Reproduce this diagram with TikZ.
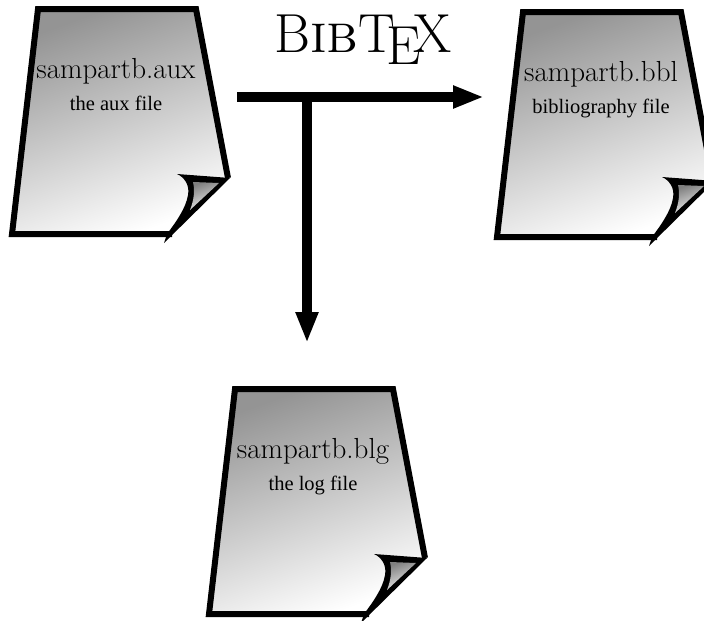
\documentclass[tikz,border=0pt]{standalone}
\usepackage{fontspec}
\newfontfamily\descfont{Liberation Serif}
\usetikzlibrary{arrows.meta}
\usetikzlibrary{positioning}

\begin{document}
\begin{tikzpicture}[x=1pt, y=-1pt,
			sheetStyle/.style={draw=none, top color=black!42, bottom color=white, shading angle=20},
			edgeStyle/.style={draw=black, line width=6pt, line join=miter},
			flapStyle/.style={fill=black, draw=none},
			foldStyle/.style={draw=none, left color=black!50, right color=black!5, shading angle=20},
			fileName/.style={font=\fontsize{29}{33}\selectfont, inner sep=0pt},
			fileDesc/.style={font=\descfont\fontsize{20.5}{24}\selectfont, inner sep=0pt},
			toolName/.style={font=\fontsize{55}{60}\selectfont, inner sep=0pt},
			flowArrow/.style={line width=10pt, -{Triangle[length=31pt, width=21pt]}},]

	\useasboundingbox (0,0) rectangle (704,621);

	\foreach \name/\dx/\dy/\file/\desc in {aux/0/0/sampartb.aux/the aux file, bbl/485/3/sampartb.bbl/bibliography file, blg/197/380/sampartb.blg/the log file}
	{
		\begin{scope}[shift={(\dx,\dy)}]
			\path[sheetStyle] (38,9) -- (196,9) -- (228,178) -- (177,174) .. controls (184,177) and (190,185) .. (188,195) .. controls (186,208) and (176,222) .. (167,234) -- (12,234) -- cycle;
			\draw[edgeStyle] (172,234) -- (12,234) -- (38,9) -- (196,9) -- (228,178);
			\fill[flapStyle] (177,174) -- (230,178) -- (164,243) -- (167,234) .. controls (176,222) and (186,208) .. (188,195) .. controls (190,185) and (184,177) .. cycle;
			\fill[foldStyle] (193,182) -- (219,183) -- (190,210) .. controls (194,200) and (195,190) .. cycle;
			\node[fileName] (\name) at (116,71) {\file};
			\node[fileDesc, below=12pt of \name] (\name desc) {\desc};
		\end{scope}
	}

	\node[toolName] (bibtex) at (363,40) {B{\scshape ib}\TeX};

	\coordinate (start) at (237,97);
	\coordinate (branch) at (307,97);
	\coordinate (bblIn) at (484,97);
	\coordinate (blgIn) at (307,343);

	\draw[flowArrow] (start) -- (bblIn);
	\draw[flowArrow] (branch) -- (blgIn);
\end{tikzpicture}
\end{document}
